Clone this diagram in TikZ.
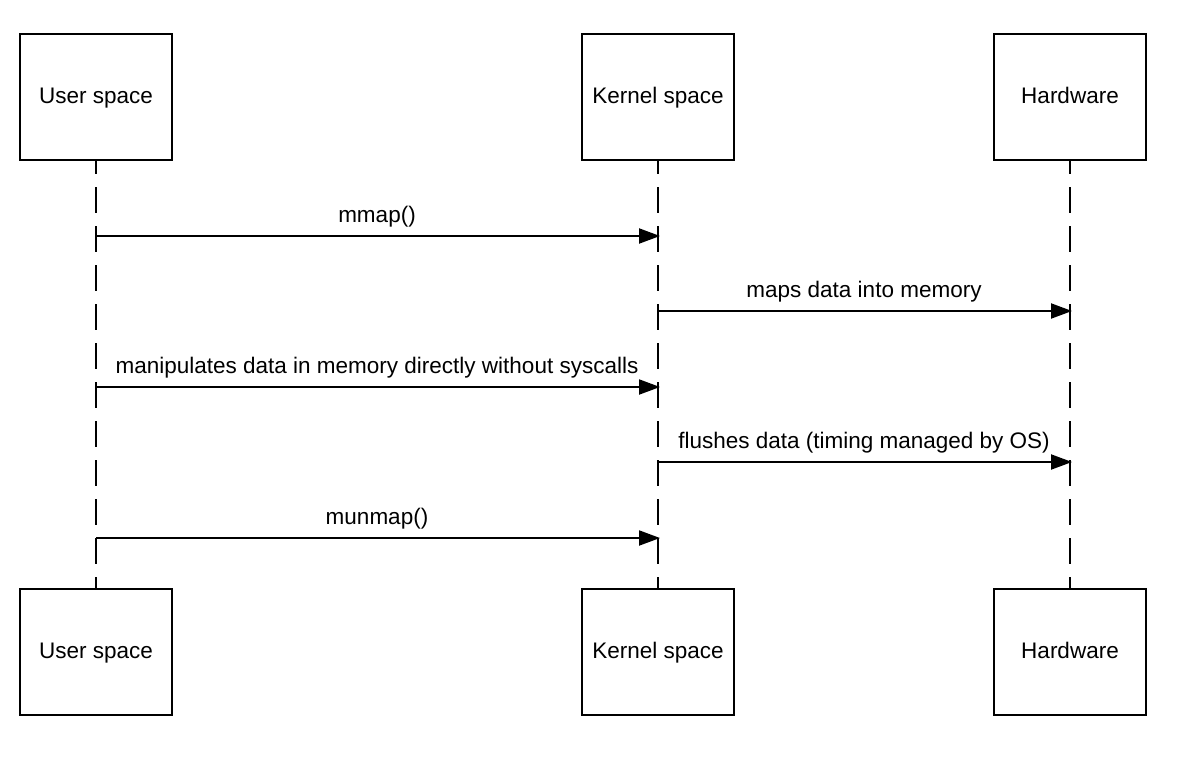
\documentclass[tikz,border=0pt]{standalone}
\usepackage{fontspec}
\setmainfont{Liberation Sans}
\usetikzlibrary{arrows.meta}
\begin{document}
\begin{tikzpicture}[x=1pt,y=-1pt,
  actor/.style={draw, line width=2pt, minimum width=152pt, minimum height=126pt, inner sep=0pt, text height=16pt, text depth=4pt, font=\fontsize{22.5}{26}\selectfont},
  life/.style={line width=2pt, dash pattern=on 26pt off 13pt, dash phase=13pt},
  msg/.style={line width=2pt, -{Triangle[length=21pt,width=15pt]}, shorten >=-2pt},
  lbl/.style={font=\fontsize{22.5}{26}\selectfont, inner sep=0pt, text height=16pt, text depth=4pt}]
\useasboundingbox (0,0) rectangle (1190,776);
\node[actor] (u) at (96,97) {User space};
\node[actor] (k) at (658,97) {Kernel space};
\node[actor] (h) at (1070,97) {Hardware};
\node[actor] (ub) at (96,652) {User space};
\node[actor] (kb) at (658,652) {Kernel space};
\node[actor] (hb) at (1070,652) {Hardware};
\draw[life] (u.south) -- (ub.north);
\draw[life] (k.south) -- (kb.north);
\draw[life] (h.south) -- (hb.north);
\coordinate (a1) at (96,236); \coordinate (b1) at (658,236);
\coordinate (a2) at (658,311); \coordinate (b2) at (1070,311);
\coordinate (a3) at (96,387); \coordinate (b3) at (658,387);
\coordinate (a4) at (658,462); \coordinate (b4) at (1070,462);
\coordinate (a5) at (96,538); \coordinate (b5) at (658,538);
\draw[msg] (a1) -- node[lbl, pos=0.5, yshift=20pt] (l1) {mmap()} (b1);
\draw[msg] (a2) -- node[lbl, pos=0.5, yshift=20pt] (l2) {maps data into memory} (b2);
\draw[msg] (a3) -- node[lbl, pos=0.5, yshift=20pt] (l3) {manipulates data in memory directly without syscalls} (b3);
\draw[msg] (a4) -- node[lbl, pos=0.5, yshift=20pt] (l4) {flushes data (timing managed by OS)} (b4);
\draw[msg] (a5) -- node[lbl, pos=0.5, yshift=20pt] (l5) {munmap()} (b5);
\end{tikzpicture}
\end{document}
